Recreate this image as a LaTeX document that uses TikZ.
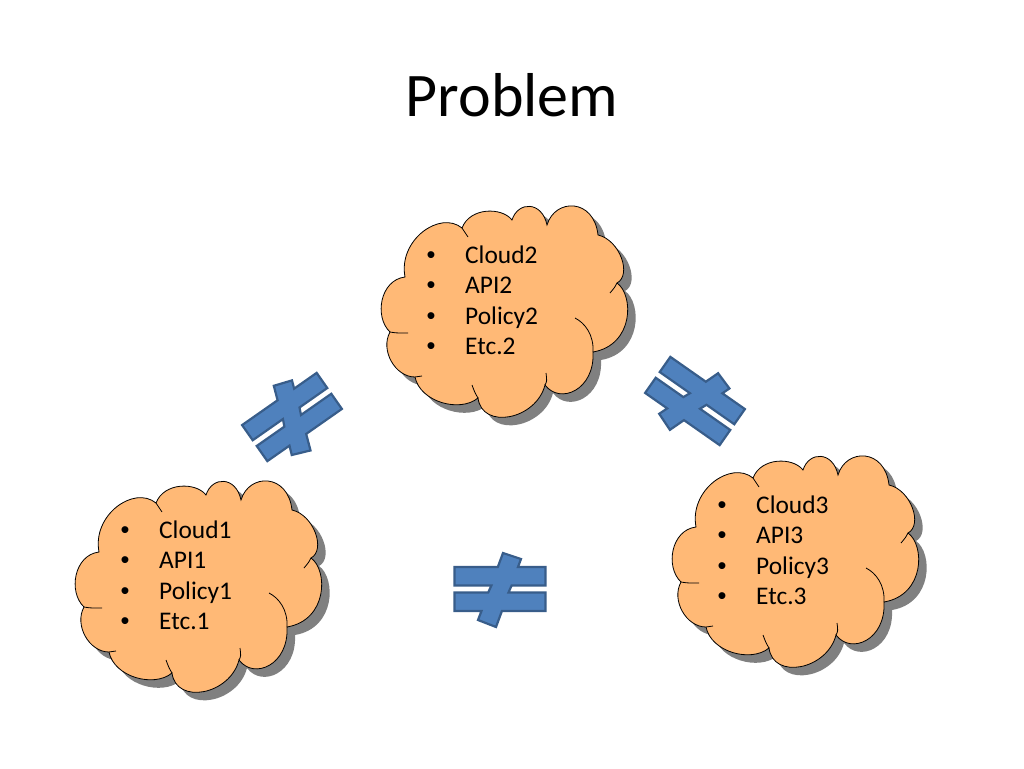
\documentclass[tikz,border=0pt]{standalone}
\usepackage{fontspec}
\setmainfont{Carlito}
\newfontfamily\dotfont{Liberation Sans}
\definecolor{cloudfill}{HTML}{FFB976}
\definecolor{neqfill}{HTML}{4F81BD}
\definecolor{neqline}{HTML}{385D8A}
\tikzset{
    cloudedge/.style={draw=black,line width=0.8pt},
    neqsign/.style={fill=neqfill,draw=neqline,line width=2.2pt,line join=miter},
    itemtext/.style={anchor=base west,inner sep=0pt,font=\fontsize{25.4}{30}\selectfont},
    dottext/.style={anchor=base west,inner sep=0pt,font=\dotfont\fontsize{25.4}{30}\selectfont},
    titletext/.style={anchor=base,inner sep=0pt,font=\fontsize{62}{70}\selectfont}
}
% outline of one cloud, in pixels from its own corner
\newcommand{\cloudpath}{(35,82)
    .. controls (28,45) and (70,15) .. (92,33)
    .. controls (100,12) and (132,12) .. (142,25)
    .. controls (148,6) and (172,6) .. (177,30)
    .. controls (185,3) and (224,3) .. (228,40)
    .. controls (250,45) and (262,80) .. (247,88)
    .. controls (264,100) and (264,150) .. (223,157)
    .. controls (225,195) and (190,210) .. (175,190)
    .. controls (166,225) and (112,235) .. (108,203)
    .. controls (90,218) and (50,207) .. (45,182)
    .. controls (25,182) and (10,155) .. (20,137)
    .. controls (4,122) and (10,85) .. (35,82) -- cycle}
% \cloudbox{name}{x}{y}{number}
\newcommand{\cloudbox}[4]{
    \begin{scope}[shift={(#2,#3)}]
        \fill[gray] [shift={(8,8)}] \cloudpath;
        \path[fill=cloudfill,cloudedge] \cloudpath;
        \draw[cloudedge] (92,33) -- (98,42);
        \draw[cloudedge] (247,88) .. controls (245,92) .. (240,98);
        \draw[cloudedge] (223,157) .. controls (224,140) and (215,128) .. (205,123);
        \draw[cloudedge] (175,190) .. controls (177,186) .. (176,178);
        \draw[cloudedge] (108,203) .. controls (105,198) .. (102,190);
        \draw[cloudedge] (45,182) -- (52,181);
        \draw[cloudedge] (20,137) .. controls (26,138) .. (38,138);
        \foreach \i/\word in {0/Cloud,1/API,2/Policy,3/Etc.} {
            \node[dottext] (#1dot\i) at (56.5,68+30.6*\i) {•};
            \node[itemtext] (#1item\i) at (95,68+30.6*\i) {\word#4};
        }
    \end{scope}
}
% \neqbox{x}{y}{angle}
\newcommand{\neqbox}[3]{
    \draw[neqsign,shift={(#1,#2)},rotate=#3]
        (-45.5,-22) -- (-2.2,-22) -- (3,-36) -- (21,-30) -- (18,-22)
        -- (45.5,-22) -- (45.5,-3.5) -- (11.6,-3.5) -- (8.5,3.5) -- (45.5,3.5)
        -- (45.5,22) -- (1.9,22) -- (-4,38) -- (-22,31) -- (-18.5,22)
        -- (-45.5,22) -- (-45.5,3.5) -- (-11.8,3.5) -- (-8.6,-3.5) -- (-45.5,-3.5)
        -- cycle;
}
\begin{document}
\begin{tikzpicture}[x=1pt,y=-1pt]
    \useasboundingbox[fill=white] (0,0) rectangle (1024,768);
    \node[titletext] (title) at (512,116) {Problem};
    \cloudbox{one}{64}{470}{1}
    \cloudbox{two}{370}{195}{2}
    \cloudbox{three}{661}{445}{3}
    \neqbox{292}{417}{35}
    \neqbox{695}{401}{-35}
    \neqbox{500}{589}{0}
\end{tikzpicture}
\end{document}
